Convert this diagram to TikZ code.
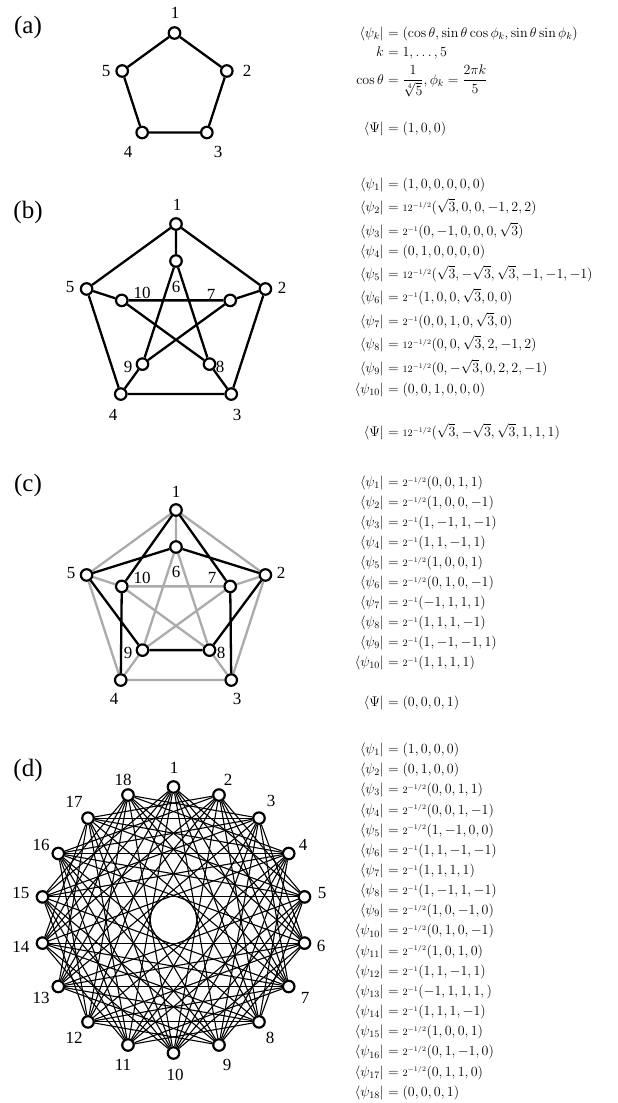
\RequirePackage{fix-cm}
\documentclass[tikz,border=0pt]{standalone}
\usepackage{amsmath}
\usepackage[no-math]{fontspec}
\newfontfamily\timesf{Liberation Serif}
\pgfdeclarelayer{back}
\pgfdeclarelayer{bg}
\pgfsetlayers{back,bg,main}
\newcommand\eqrow[4]{%
  \node[lhs] (#1l) at (384,#2) {$#3$};
  \node[rhs] (#1r) at (384,#2) {${}=#4$};}
\newcommand\cMh{{\scriptstyle 12^{-1/2}}}
\newcommand\cTh{{\scriptstyle 2^{-1/2}}}
\newcommand\cTw{{\scriptstyle 2^{-1}}}
\begin{document}
\begin{tikzpicture}[x=1pt,y=-1pt,
  vtx/.style={circle,draw,line width=2.2pt,fill=white,inner sep=0pt,minimum size=11.5pt},
  edge/.style={line width=2.3pt},
  gedge/.style={line width=2.3pt,draw=black!33},
  dedge/.style={line width=1.1pt},
  num/.style={font=\timesf\fontsize{17}{17}\selectfont,inner sep=0pt},
  panel/.style={font=\timesf\fontsize{25}{25}\selectfont,inner sep=0pt},
  lhs/.style={anchor=base east,inner sep=0pt,font=\fontsize{14}{17}\selectfont},
  rhs/.style={anchor=base west,inner sep=0pt,font=\fontsize{14}{17}\selectfont}]
\begin{pgfonlayer}{back}
\fill[white] (0,0) rectangle (618,1103);
\end{pgfonlayer}
\useasboundingbox (0,0) rectangle (618,1103);

% ---------------- (a)
\node[panel] (pa) at (28,27) {(a)};
\foreach \k in {1,...,5}
  \node[vtx] (a\k) at ({174.5+55*cos(90-72*(\k-1))},{88-55*sin(90-72*(\k-1))}) {};
\begin{pgfonlayer}{bg}
\draw[edge] (a1)--(a2) (a2)--(a3) (a3)--(a4) (a4)--(a5) (a5)--(a1);
\end{pgfonlayer}
\node[num] (la1) at (175,13) {1};
\node[num] (la2) at (247,71) {2};
\node[num] (la3) at (218,152) {3};
\node[num] (la4) at (128,152) {4};
\node[num] (la5) at (106,71) {5};
\eqrow{ea1}{37}{\langle\psi_k|}{(\cos\theta,\sin\theta\cos\phi_k,\sin\theta\sin\phi_k)}
\eqrow{ea2}{56}{k}{1,\ldots,5}
\eqrow{ea3}{84}{\cos\theta}{\dfrac{1}{\sqrt[4]{5}},\phi_k=\dfrac{2\pi k}{5}}
\eqrow{ea4}{132}{\langle\Psi|}{(1,0,0)}

% ---------------- (b)
\node[panel] (pb) at (28,212) {(b)};
\foreach \k in {1,...,5}
  \node[vtx] (b\k) at ({176+94*cos(90-72*(\k-1))},{318-94*sin(90-72*(\k-1))}) {};
\foreach \k in {6,...,10}
  \node[vtx] (b\k) at ({176+57*cos(90-72*(\k-6))},{318-57*sin(90-72*(\k-6))}) {};
\begin{pgfonlayer}{bg}
\draw[edge] (b1)--(b2) (b2)--(b3) (b3)--(b4) (b4)--(b5) (b5)--(b1)
  (b1)--(b6) (b2)--(b7) (b3)--(b8) (b4)--(b9) (b5)--(b10)
  (b6)--(b8) (b8)--(b10) (b10)--(b7) (b7)--(b9) (b9)--(b6);
\end{pgfonlayer}
\node[num] (lb1) at (177,205) {1};
\node[num] (lb2) at (282,288) {2};
\node[num] (lb3) at (237,415) {3};
\node[num] (lb4) at (113,415) {4};
\node[num] (lb5) at (70,287) {5};
\node[num] (lb6) at (176,287) {6};
\node[num] (lb7) at (211,295) {7};
\node[num] (lb8) at (220,367) {8};
\node[num] (lb9) at (128,367) {9};
\node[num] (lb10) at (142,293) {10};
\eqrow{eb1}{188.5}{\langle\psi_1|}{(1,0,0,0,0,0)}
\eqrow{eb2}{211.5}{\langle\psi_2|}{\cMh(\sqrt{3},0,0,-1,2,2)}
\eqrow{eb3}{235.5}{\langle\psi_3|}{\cTw(0,-1,0,0,0,\sqrt{3})}
\eqrow{eb4}{255.5}{\langle\psi_4|}{(0,1,0,0,0,0)}
\eqrow{eb5}{278.5}{\langle\psi_5|}{\cMh(\sqrt{3},-\sqrt{3},\sqrt{3},-1,-1,-1)}
\eqrow{eb6}{301.5}{\langle\psi_6|}{\cTw(1,0,0,\sqrt{3},0,0)}
\eqrow{eb7}{325.5}{\langle\psi_7|}{\cTw(0,0,1,0,\sqrt{3},0)}
\eqrow{eb8}{348.5}{\langle\psi_8|}{\cMh(0,0,\sqrt{3},2,-1,2)}
\eqrow{eb9}{372.5}{\langle\psi_9|}{\cMh(0,-\sqrt{3},0,2,2,-1)}
\eqrow{eb10}{393.5}{\langle\psi_{10}|}{(0,0,1,0,0,0)}
\eqrow{eb11}{436.5}{\langle\Psi|}{\cMh(\sqrt{3},-\sqrt{3},\sqrt{3},1,1,1)}

% ---------------- (c)
\node[panel] (pc) at (28,485) {(c)};
\foreach \k in {1,...,5}
  \node[vtx] (c\k) at ({176+94*cos(90-72*(\k-1))},{604-94*sin(90-72*(\k-1))}) {};
\foreach \k in {6,...,10}
  \node[vtx] (c\k) at ({176+57*cos(90-72*(\k-6))},{604-57*sin(90-72*(\k-6))}) {};
\begin{pgfonlayer}{bg}
\draw[gedge] (c1)--(c2) (c2)--(c3) (c3)--(c4) (c4)--(c5) (c5)--(c1)
  (c1)--(c6) (c2)--(c7) (c3)--(c8) (c4)--(c9) (c5)--(c10)
  (c6)--(c8) (c8)--(c10) (c10)--(c7) (c7)--(c9) (c9)--(c6);
\draw[edge] (c1)--(c10) (c1)--(c7) (c5)--(c6) (c6)--(c2) (c5)--(c9)
  (c2)--(c8) (c10)--(c4) (c7)--(c3) (c9)--(c8);
\end{pgfonlayer}
\node[num] (lc1) at (176,492) {1};
\node[num] (lc2) at (281,573) {2};
\node[num] (lc3) at (237,699) {3};
\node[num] (lc4) at (114,699) {4};
\node[num] (lc5) at (71,573) {5};
\node[num] (lc6) at (176,572) {6};
\node[num] (lc7) at (212,578) {7};
\node[num] (lc8) at (221,653) {8};
\node[num] (lc9) at (128,653) {9};
\node[num] (lc10) at (142,578) {10};
\eqrow{ec1}{486.5}{\langle\psi_1|}{\cTh(0,0,1,1)}
\eqrow{ec2}{506.5}{\langle\psi_2|}{\cTh(1,0,0,-1)}
\eqrow{ec3}{526.5}{\langle\psi_3|}{\cTw(1,-1,1,-1)}
\eqrow{ec4}{546.5}{\langle\psi_4|}{\cTw(1,1,-1,1)}
\eqrow{ec5}{566.5}{\langle\psi_5|}{\cTh(1,0,0,1)}
\eqrow{ec6}{586.5}{\langle\psi_6|}{\cTh(0,1,0,-1)}
\eqrow{ec7}{606.5}{\langle\psi_7|}{\cTw(-1,1,1,1)}
\eqrow{ec8}{626.5}{\langle\psi_8|}{\cTw(1,1,1,-1)}
\eqrow{ec9}{646.5}{\langle\psi_9|}{\cTw(1,-1,-1,1)}
\eqrow{ec10}{666.5}{\langle\psi_{10}|}{\cTw(1,1,1,1)}
\eqrow{ec11}{706.5}{\langle\Psi|}{(0,0,0,1)}

% ---------------- (d)
\node[panel] (pd) at (28,770) {(d)};
\foreach \k in {1,...,18}
  \node[vtx] (d\k) at ({173.5+133*cos(90-20*(\k-1))},{920-133*sin(90-20*(\k-1))}) {};
\begin{pgfonlayer}{bg}
\foreach \i/\j in {1/5,1/6,1/7,1/8,1/9,1/11,1/12,1/13,1/14,1/15,
  2/5,2/6,2/7,2/8,2/10,2/12,2/13,2/14,2/16,2/17,
  3/6,3/7,3/9,3/10,3/11,3/13,3/15,3/16,3/17,3/18,
  4/8,4/9,4/10,4/11,4/12,4/14,4/15,4/16,4/17,4/18,
  5/8,5/9,5/10,5/11,5/13,5/15,5/16,5/17,
  6/9,6/10,6/12,6/13,6/14,6/16,6/18,
  7/11,7/12,7/13,7/14,7/15,7/17,7/18,
  8/11,8/12,8/13,8/14,8/16,8/18,
  9/12,9/13,9/15,9/16,9/17,
  10/14,10/15,10/16,10/17,10/18,
  11/14,11/15,11/16,11/17,
  12/15,12/16,12/18,
  13/17,13/18,
  14/17,14/18,
  15/18}
  \draw[dedge] (d\i)--(d\j);
\end{pgfonlayer}
\node[num] (ld1) at (174,768) {1};
\node[num] (ld2) at (228,780) {2};
\node[num] (ld3) at (271,801) {3};
\node[num] (ld4) at (303,845) {4};
\node[num] (ld5) at (322,893) {5};
\node[num] (ld6) at (321,946) {6};
\node[num] (ld7) at (305,998) {7};
\node[num] (ld8) at (270,1038) {8};
\node[num] (ld9) at (227,1065) {9};
\node[num] (ld10) at (175,1075) {10};
\node[num] (ld11) at (123,1065) {11};
\node[num] (ld12) at (74,1038) {12};
\node[num] (ld13) at (41,998) {13};
\node[num] (ld14) at (21,947) {14};
\node[num] (ld15) at (21,893) {15};
\node[num] (ld16) at (41,845) {16};
\node[num] (ld17) at (74,802) {17};
\node[num] (ld18) at (123,780) {18};
\eqrow{ed1}{753.5}{\langle\psi_1|}{(1,0,0,0)}
\eqrow{ed2}{773.7}{\langle\psi_2|}{(0,1,0,0)}
\eqrow{ed3}{793.8}{\langle\psi_3|}{\cTh(0,0,1,1)}
\eqrow{ed4}{814.0}{\langle\psi_4|}{\cTh(0,0,1,-1)}
\eqrow{ed5}{834.1}{\langle\psi_5|}{\cTh(1,-1,0,0)}
\eqrow{ed6}{854.3}{\langle\psi_6|}{\cTw(1,1,-1,-1)}
\eqrow{ed7}{874.5}{\langle\psi_7|}{\cTw(1,1,1,1)}
\eqrow{ed8}{894.6}{\langle\psi_8|}{\cTw(1,-1,1,-1)}
\eqrow{ed9}{914.8}{\langle\psi_9|}{\cTh(1,0,-1,0)}
\eqrow{ed10}{934.9}{\langle\psi_{10}|}{\cTh(0,1,0,-1)}
\eqrow{ed11}{955.1}{\langle\psi_{11}|}{\cTh(1,0,1,0)}
\eqrow{ed12}{975.3}{\langle\psi_{12}|}{\cTw(1,1,-1,1)}
\eqrow{ed13}{995.4}{\langle\psi_{13}|}{\cTw(-1,1,1,1,)}
\eqrow{ed14}{1015.6}{\langle\psi_{14}|}{\cTw(1,1,1,-1)}
\eqrow{ed15}{1035.7}{\langle\psi_{15}|}{\cTh(1,0,0,1)}
\eqrow{ed16}{1055.9}{\langle\psi_{16}|}{\cTh(0,1,-1,0)}
\eqrow{ed17}{1076.1}{\langle\psi_{17}|}{\cTh(0,1,1,0)}
\eqrow{ed18}{1096.2}{\langle\psi_{18}|}{(0,0,0,1)}
\end{tikzpicture}
\end{document}
